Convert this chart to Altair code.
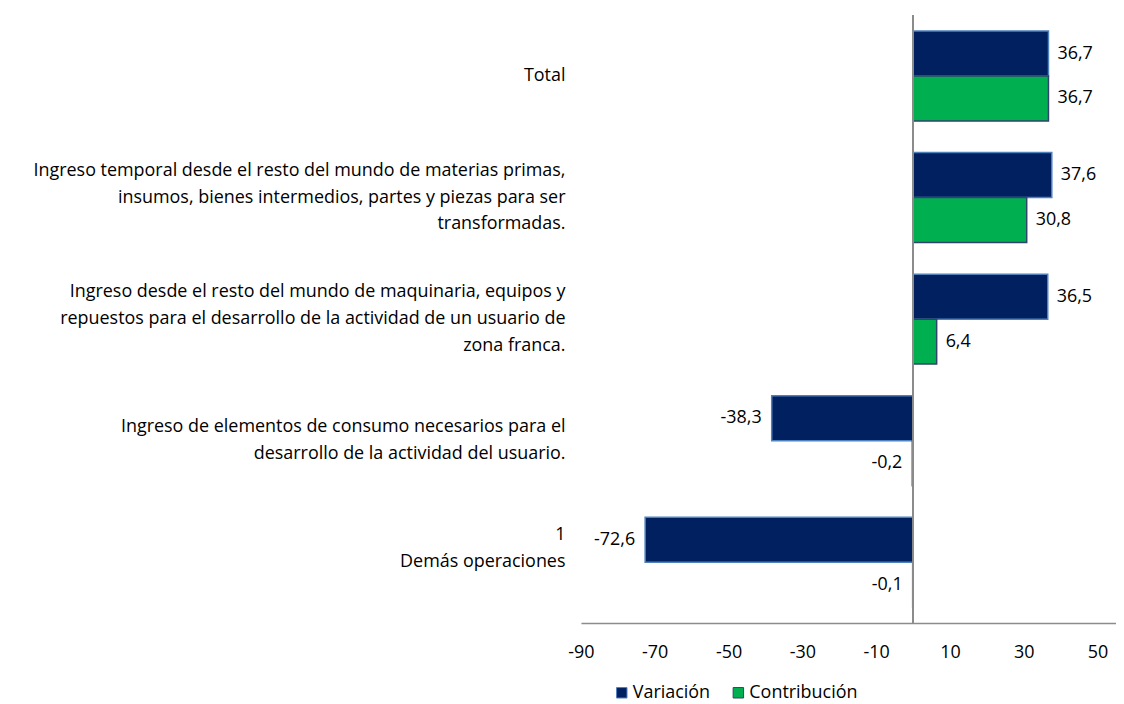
import altair as alt
import pandas as pd

categories = [
    "Total",
    "Ingreso temporal desde el resto del mundo de materias primas,|insumos, bienes intermedios, partes y piezas para ser|transformadas.",
    "Ingreso desde el resto del mundo de maquinaria, equipos y|repuestos para el desarrollo de la actividad de un usuario de|zona franca.",
    "Ingreso de elementos de consumo necesarios para el|desarrollo de la actividad del usuario.",
    "1\u00a0\u00a0\u00a0\u00a0\u00a0\u00a0|Demás operaciones|\u00a0",
]
series = ["Variación", "Contribución"]
variacion = [36.7, 37.6, 36.5, -38.3, -72.6]
contribucion = [36.7, 30.8, 6.4, -0.2, -0.1]
x_ticks = [-90, -70, -50, -30, -10, 10, 30, 50]

rows = []
for i, c in enumerate(categories):
    rows.append({"cat": c, "serie": series[0], "value": variacion[i]})
    rows.append({"cat": c, "serie": series[1], "value": contribucion[i]})
df = pd.DataFrame(rows)

FONT = "Open Sans"
FS = 18

label_offset = {
    "condition": [
        {"test": "length(split(datum.value, '|')) == 3", "value": -27},
        {"test": "length(split(datum.value, '|')) == 2", "value": -13.5},
    ],
    "value": 0,
}

y_enc = alt.Y(
    "cat:N",
    sort=categories,
    scale=alt.Scale(paddingInner=0.26, paddingOuter=0.13),
    axis=alt.Axis(
        title=None, domain=False, ticks=False, grid=False,
        labelExpr="split(datum.label, '|')",
        labelFont=FONT, labelFontSize=FS, labelColor="#000000",
        labelLimit=700, labelPadding=16, labelLineHeight=27,
        labelOffset=label_offset,
    ),
)
yoff = alt.YOffset("serie:N", sort=series, scale=alt.Scale(paddingInner=0, paddingOuter=0))
x_enc = alt.X(
    "value:Q",
    scale=alt.Scale(domain=[-90, 55], nice=False, zero=False),
    axis=alt.Axis(
        title=None, values=x_ticks, grid=False, ticks=False,
        domainColor="#8c8c8c", domainWidth=1.5,
        labelExpr="(datum.value < 0 ? '-' : '') + abs(datum.value)",
        labelFont=FONT, labelFontSize=FS, labelColor="#000000",
        labelPadding=21, labelFlush=False,
    ),
)

base = alt.Chart(df)

bars = base.mark_bar(strokeWidth=1.5).encode(
    x=x_enc,
    y=y_enc,
    yOffset=yoff,
    color=alt.Color(
        "serie:N",
        sort=series,
        scale=alt.Scale(domain=series, range=["#002060", "#00B050"]),
        legend=alt.Legend(
            title=None, orient="none", direction="horizontal",
            legendX=32, legendY=671,
            symbolType="square", symbolSize=110,
            symbolStrokeColor="#1F3864", symbolStrokeWidth=1,
            labelFont=FONT, labelFontSize=FS, labelColor="#000000",
            labelOffset=2, columnPadding=19,
        ),
    ),
    stroke=alt.Stroke(
        "serie:N",
        sort=series,
        scale=alt.Scale(domain=series, range=["#4F81BD", "#2F4468"]),
        legend=None,
    ),
)

zero = base.mark_rule(color="#8c8c8c", strokeWidth=1.5).encode(x=alt.datum(0))

text_expr = "(datum.value < 0 ? '-' : '') + replace(format(abs(datum.value), '.1f'), '.', ',')"

pos_labels = base.transform_filter("datum.value >= 0").transform_calculate(
    lab=text_expr
).mark_text(align="left", baseline="middle", dx=9, font=FONT, fontSize=FS, color="#000000").encode(
    x="value:Q", y=alt.Y("cat:N", sort=categories), yOffset=yoff, text="lab:N"
)
neg_labels = base.transform_filter("datum.value < 0").transform_calculate(
    lab=text_expr
).mark_text(align="right", baseline="middle", dx=-10, font=FONT, fontSize=FS, color="#000000").encode(
    x="value:Q", y=alt.Y("cat:N", sort=categories), yOffset=yoff, text="lab:N"
)

chart = alt.layer(bars, zero, pos_labels, neg_labels).properties(
    width=537,
    height=610,
    autosize=alt.AutoSizeParams(type="none"),
    padding={"left": 575, "top": 6, "right": 0, "bottom": 80},
).configure_view(stroke=None, strokeWidth=0)

chart.save("out.html", embed_options={"renderer": "svg", "actions": False})
